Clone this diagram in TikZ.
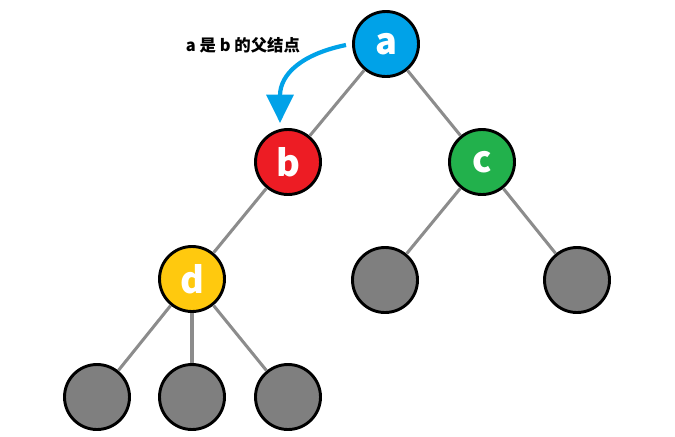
\documentclass[tikz,border=0pt]{standalone}
\usepackage{fontspec}
\setmainfont{Noto Sans CJK SC}
\usetikzlibrary{arrows.meta}
\definecolor{nodeblue}{RGB}{0,162,232}
\definecolor{nodered}{RGB}{237,28,36}
\definecolor{nodegreen}{RGB}{34,177,76}
\definecolor{nodeyellow}{RGB}{255,201,14}
\definecolor{leafgray}{RGB}{127,127,127}
\definecolor{edgegray}{RGB}{140,140,140}

\begin{document}
\begin{tikzpicture}[
  x=0.03cm, y=-0.03cm,
  nd/.style={circle, draw=black, line width=2.5pt, minimum size=1.95cm,
    inner sep=0pt, text=white, font=\fontsize{31}{31}\selectfont\bfseries},
  leaf/.style={nd, fill=leafgray},
  edge/.style={draw=edgegray, line width=2.6pt},
  lbl/.style={font=\fontsize{14}{15}\selectfont\bfseries},
]
\useasboundingbox (0,0) rectangle (675,436);
% named tree nodes
\node[nd, fill=nodeblue] (a) at (386,44) {a};
\node[nd, fill=nodered] (b) at (288,162) {b};
\node[nd, fill=nodegreen] (c) at (482,162) {c};
\node[nd, fill=nodeyellow] (d) at (192,279) {d};
% unnamed children
\node[leaf] (c1) at (385,280) {};
\node[leaf] (c2) at (577,280) {};
\node[leaf] (d1) at (97,397) {};
\node[leaf] (d2) at (192,397) {};
\node[leaf] (d3) at (288,397) {};
% edges
\foreach \p/\q in {a/b, a/c, b/d, c/c1, c/c2, d/d1, d/d2, d/d3}
  \draw[edge] (\p) -- (\q);
% parent note
\node[lbl] (note) at (243,45) {a 是 b 的父结点};
\coordinate (from) at (346,45);
\coordinate (to) at (280,123);
\draw[-{Triangle[length=8.5mm, width=8mm]}, line width=3.6pt, nodeblue]
  (from) .. controls (302,54) and (280,74) .. (to);
\end{tikzpicture}
\end{document}
